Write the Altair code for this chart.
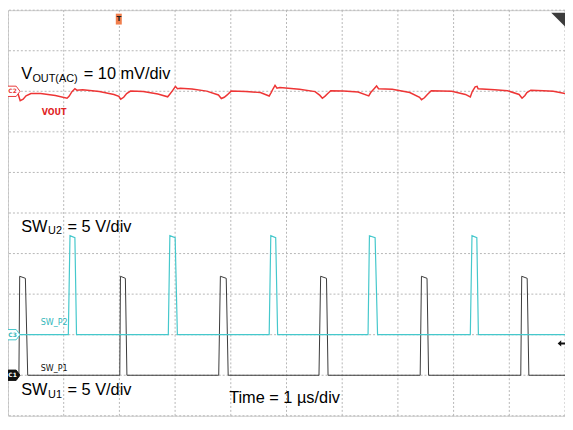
import altair as alt
import pandas as pd

# ---------------- data read from the scope capture ----------------
# horizontal: 1 us/div, 10 div ; vertical: 10 div
grid_divs = list(range(11))

vout_t = [0.0, 0.149, 0.184, 0.219, 0.272, 0.324, 0.412, 0.587, 0.850, 1.060,
          1.096, 1.148, 1.201, 1.236, 1.341, 1.639, 1.902, 1.990, 2.024, 2.077,
          2.130, 2.200, 2.428, 2.691, 2.866, 2.901, 2.954, 3.006, 3.042, 3.094,
          3.304, 3.567, 3.778, 3.830, 3.883, 3.935, 4.005, 4.268, 4.531, 4.689,
          4.724, 4.759, 4.794, 4.829, 4.882, 5.232, 5.513, 5.600, 5.644, 5.688,
          5.741, 5.794, 6.022, 6.285, 6.477, 6.512, 6.565, 6.617, 6.652, 6.898,
          7.213, 7.389, 7.424, 7.476, 7.529, 7.599, 7.967, 8.212, 8.300, 8.335,
          8.387, 8.422, 8.440, 8.738, 8.966, 9.176, 9.229, 9.281, 9.316, 9.386,
          9.614, 9.790, 10.0]
vout_mv = [-0.07, -0.30, -0.77, -2.29, -1.94, -1.12, -0.54, -0.54, -1.01, -1.71,
           -1.24, -0.07, 0.63, 0.28, 0.40, -0.07, -0.77, -1.24, -1.94, -1.47,
           -0.54, 0.05, -0.07, -0.65, -1.36, -0.77, 0.16, 1.22, 0.63, 0.75,
           0.56, 0.05, -0.89, -1.78, -1.47, -0.89, 0.05, -0.07, -0.30, -1.17,
           -0.30, 0.63, 1.45, 0.75, 0.94, 0.51, -0.07, -1.01, -1.71, -1.24,
           -0.54, 0.16, 0.05, -0.19, -1.12, -0.30, 0.51, 1.33, 0.63, 0.51,
           -0.30, -1.47, -2.06, -1.59, -0.77, 0.16, 0.0, -0.77, -1.40, -0.07,
           1.10, 1.22, 0.63, 0.40, 0.16, -0.77, -1.71, -1.01, -0.30, 0.28,
           0.16, 0.0, -0.54]

# switch-node pulses (us): rise start, top start, top end, fall end
sw1_rise = [0.196, 2.007, 3.783, 5.583, 7.400, 9.206]
sw1_top0 = [0.210, 2.019, 3.813, 5.613, 7.423, 9.223]
sw1_top1 = [0.312, 2.107, 3.918, 5.718, 7.523, 9.321]
sw1_fall = [0.354, 2.135, 3.953, 5.746, 7.551, 9.351]

sw2_rise = [1.083, 2.878, 4.689, 6.464, 8.300]
sw2_top0 = [1.113, 2.906, 4.718, 6.489, 8.330]
sw2_top1 = [1.201, 3.001, 4.806, 6.591, 8.417]
sw2_fall = [1.230, 3.041, 4.841, 6.635, 8.445]

sw_low_v = 0.0
sw_peak_v = 12.2
sw_high_v = 11.95

# channel settings: offset (div), units per div
ch_vout = (8.0, 10.0)
ch_sw1 = (1.0, 5.0)
ch_sw2 = (2.0, 5.0)

# annotation texts: text, time (us), position (div), font size
big_text = ["V", "OUT(AC)", "= 10 mV/div",
            "SW", "U2", "= 5 V/div",
            "SW", "U1", "= 5 V/div",
            "Time = 1 µs/div"]
big_t = [0.237, 0.438, 1.36, 0.237, 0.719, 1.069, 0.237, 0.719, 1.069, 3.970]
big_y = [8.30, 8.23, 8.30, 4.54, 4.47, 4.54, 0.52, 0.45, 0.52, 0.31]
big_size = [16.5, 11, 16.5, 16.5, 11, 16.5, 16.5, 11, 16.5, 16.5]

small_text = ["SW_P2", "SW_P1"]
small_t = [0.588, 0.588]
small_y = [2.25, 1.106]
small_color = ["#2fb6ba", "#111111"]

vout_label = ["VOUT"]
vout_label_t = [0.605]
vout_label_y = [7.42]

tag_text = ["C2", "C3", "C1"]
tag_t = [0.1, 0.1, 0.1]
tag_y = [8.0, 2.0, 1.0]
tag_fill = ["#ffffff", "#ffffff", "#111111"]
tag_stroke = ["#e83a3a", "#45c8cc", "#111111"]
tag_textcolor = ["#e83a3a", "#2fb6ba", "#ffffff"]


# ---------------- build tables ----------------
def pulse_train(rise, top0, top1, fall):
    t, v = [0.0], [sw_low_v]
    for r, a, b, f in zip(rise, top0, top1, fall):
        t += [r, a, b, f]
        v += [sw_low_v, sw_peak_v, sw_high_v, sw_low_v]
    t.append(10.0)
    v.append(sw_low_v)
    return t, v


def channel_df(t, v, ch):
    off, per = ch
    return pd.DataFrame({"t": t, "y": [off + x / per for x in v], "i": range(len(t))})


df_vout = channel_df(vout_t, vout_mv, ch_vout)
df_sw1 = channel_df(*pulse_train(sw1_rise, sw1_top0, sw1_top1, sw1_fall), ch_sw1)
df_sw2 = channel_df(*pulse_train(sw2_rise, sw2_top0, sw2_top1, sw2_fall), ch_sw2)

df_grid = pd.DataFrame({"t": grid_divs, "y": grid_divs})
df_big = pd.DataFrame({"text": big_text, "t": big_t, "y": big_y, "size": big_size})
df_small = pd.DataFrame({"text": small_text, "t": small_t, "y": small_y, "color": small_color})
df_vlab = pd.DataFrame({"text": vout_label, "t": vout_label_t, "y": vout_label_y})
df_tag = pd.DataFrame({"text": tag_text, "t": tag_t, "y": tag_y, "fill": tag_fill,
                       "stroke": tag_stroke, "tc": tag_textcolor})
df_trig = pd.DataFrame({"t": [1.989], "y": [9.78], "text": ["T"]})
df_corner = pd.DataFrame({"t": [9.877], "y": [9.766]})
df_arrow = pd.DataFrame({"t": [9.939], "y": [1.784]})

# ---------------- chart ----------------
xscale = alt.Scale(domain=[0, 10], nice=False, zero=False)
yscale = alt.Scale(domain=[0, 10], nice=False, zero=False)

X = lambda: alt.X("t:Q", scale=xscale, axis=None)
Y = lambda: alt.Y("y:Q", scale=yscale, axis=None)

narrow = "Liberation Sans Narrow, DejaVu Sans Condensed, sans-serif"

vgrid = alt.Chart(df_grid).mark_rule(color="#b6b6b6", strokeWidth=1, strokeDash=[2, 2]).encode(x=X())
hgrid = alt.Chart(df_grid).mark_rule(color="#b6b6b6", strokeWidth=1, strokeDash=[2, 2]).encode(y=Y())

sw1_line = alt.Chart(df_sw1).mark_line(color="#3a3a3a", strokeWidth=1).encode(
    x=X(), y=Y(), order="i:Q")
sw2_line = alt.Chart(df_sw2).mark_line(color="#45c8cc", strokeWidth=1.2).encode(
    x=X(), y=Y(), order="i:Q")
vout_line = alt.Chart(df_vout).mark_line(color="#ee3535", strokeWidth=1.5).encode(
    x=X(), y=Y(), order="i:Q")

big = alt.Chart(df_big).mark_text(align="left", baseline="alphabetic",
                                  font="Liberation Sans", color="#000000").encode(
    x=X(), y=Y(), text="text:N", size=alt.Size("size:Q", scale=None))
small = alt.Chart(df_small).mark_text(align="left", baseline="alphabetic", fontSize=9,
                                      font=narrow).encode(
    x=X(), y=Y(), text="text:N", color=alt.Color("color:N", scale=None))
vlab = alt.Chart(df_vlab).mark_text(align="left", baseline="alphabetic", fontSize=9,
                                    font=narrow, fontWeight="bold", color="#e02424").encode(
    x=X(), y=Y(), text="text:N")

tag_shape = "M-1,-0.8 L0.4,-0.8 L1,0 L0.4,0.8 L-1,0.8 Z"
tags = alt.Chart(df_tag).mark_point(shape=tag_shape, size=169, filled=True,
                                    strokeWidth=1, opacity=1).encode(
    x=X(), y=Y(), fill=alt.Fill("fill:N", scale=None), stroke=alt.Stroke("stroke:N", scale=None))
tag_labels = alt.Chart(df_tag).mark_text(fontSize=6, font="DejaVu Sans", dx=-1, fontWeight="bold").encode(
    x=X(), y=Y(), text="text:N", color=alt.Color("tc:N", scale=None))

trig = alt.Chart(df_trig).mark_point(shape="M-0.55,-1 L0.55,-1 L0.55,1 L-0.55,1 Z", size=121,
                                     filled=True, color="#f07e4c", opacity=1).encode(x=X(), y=Y())
trig_label = alt.Chart(df_trig).mark_text(fontSize=7, font="DejaVu Sans", fontWeight="bold",
                                          color="#222222").encode(x=X(), y=Y(), text="text:N")
corner = alt.Chart(df_corner).mark_point(shape="M-1,-1 L1,-1 L1,1 Z", size=196, filled=True,
                                         color="#3c3c3c", opacity=1).encode(x=X(), y=Y())
arrow = alt.Chart(df_arrow).mark_point(
    shape="M-1,0 L-0.1,-0.8 L-0.1,-0.25 L1,-0.25 L1,0.25 L-0.1,0.25 L-0.1,0.8 Z",
    size=64, filled=True, color="#111111", opacity=1).encode(x=X(), y=Y())

chart = alt.layer(vgrid, hgrid, sw1_line, sw2_line, vout_line, big, small, vlab, tags, tag_labels,
                  trig, trig_label, corner, arrow).properties(
    width=563, height=410, padding=0,
    autosize=alt.AutoSizeParams(type="none"),
    background="#ffffff",
).configure_view(stroke="#cfcfcf", strokeWidth=1)

chart.save("out.html", embed_options={"renderer": "svg", "actions": False})
